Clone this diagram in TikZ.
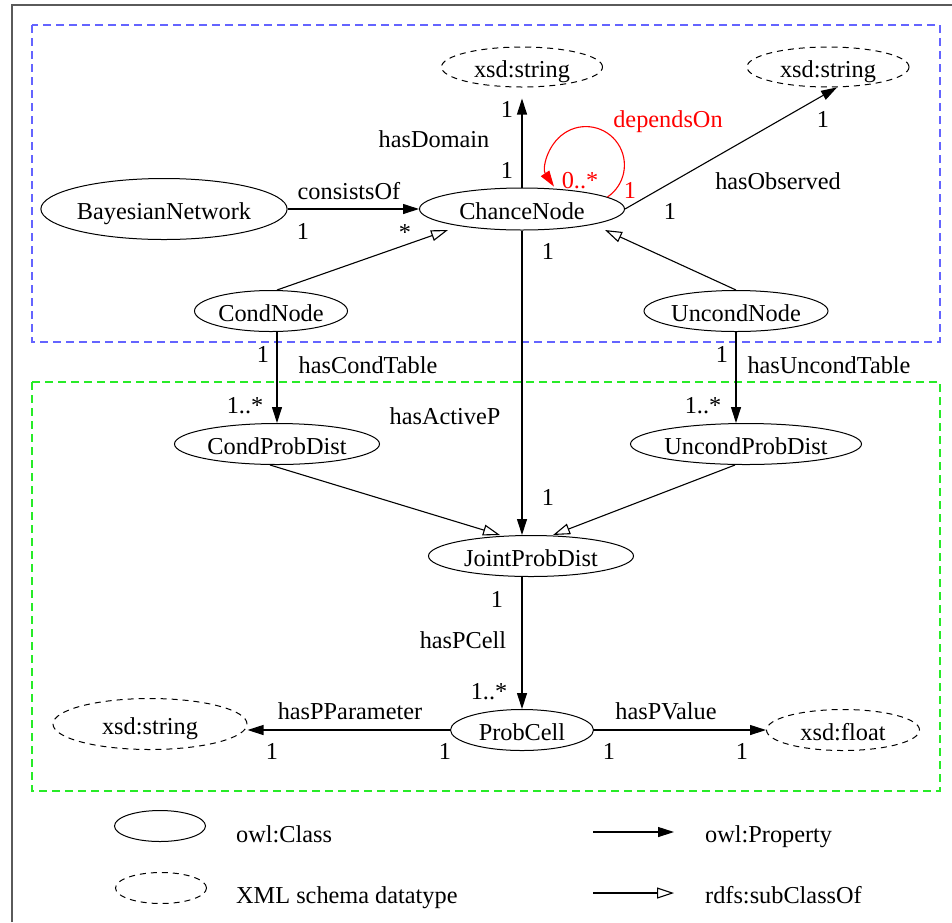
\documentclass[tikz,border=0pt]{standalone}
\usepackage{fontspec}
\setmainfont{Liberation Serif}
\usetikzlibrary{shapes.geometric,arrows.meta}
\definecolor{netblue}{RGB}{100,100,255}
\definecolor{probgreen}{RGB}{40,235,40}
\definecolor{framegray}{RGB}{90,90,90}
\begin{document}
\begin{tikzpicture}[x=1pt,y=-1pt,
  every node/.style={font=\fontsize{24.3}{29}\selectfont},
  cls/.style={ellipse,draw,line width=1pt,inner sep=0pt,text height=20pt,text depth=0pt},
  dtype/.style={cls,dash pattern=on 6pt off 5pt},
  lbl/.style={anchor=base,inner sep=0pt},
  legtext/.style={anchor=base west,inner sep=0pt},
  prop/.style={line width=1.1pt,-{Triangle[length=16pt,width=10pt]}},
  sub/.style={line width=1.1pt,-{Triangle[open,length=17pt,width=11pt]}},
  grp/.style={line width=1.2pt,dash pattern=on 8pt off 5pt},
]
\useasboundingbox (0,0) rectangle (952,922);

% outer frame and the two package groups
\draw[framegray,line width=1.5pt] (12,922) -- (12,5) -- (952,5);
\draw[grp,netblue] (32,25) rectangle (940,342);
\draw[grp,probgreen] (32,382) rectangle (940,791);

% classes and datatypes
\node[cls,minimum width=245pt,minimum height=61pt] (bn) at (164,209) {BayesianNetwork};
\node[cls,minimum width=205pt,minimum height=42pt] (cn) at (522,209) {ChanceNode};
\node[dtype,minimum width=161pt,minimum height=40pt] (xs1) at (522,67) {xsd:string};
\node[dtype,minimum width=162pt,minimum height=40pt] (xs2) at (828,67) {xsd:string};
\node[cls,minimum width=153pt,minimum height=41pt] (cond) at (271,311) {CondNode};
\node[cls,minimum width=184pt,minimum height=41pt] (uncond) at (736,311) {UncondNode};
\node[cls,minimum width=205pt,minimum height=41pt] (cpd) at (277,444) {CondProbDist};
\node[cls,minimum width=225pt,minimum height=41pt] (upd) at (746,444) {UncondProbDist};
\node[cls,minimum width=205pt,minimum height=41pt] (jpd) at (531,556) {JointProbDist};
\node[cls,minimum width=143pt,minimum height=41pt] (pc) at (522,730) {ProbCell};
\node[dtype,minimum width=194pt,minimum height=51pt] (xsb) at (150,724) {xsd:string};
\node[dtype,minimum width=153pt,minimum height=41pt] (xf) at (843,730) {xsd:float};

% properties
\draw[prop] (bn.east) -- (cn.west);
\draw[prop,shorten >=11pt] (cn.north) -- (xs1.south);
\draw[prop] (cn.east) -- (xs2.-66);
\draw[prop,red] (cn.8) arc[start angle=56,end angle=-214,radius=38.5];
\draw[prop] (cpd.north |- cond.south) -- (cpd.north);
\draw[prop] (uncond.south) -- (uncond.south |- upd.north);
\draw[prop] (cn.south) -- (cn.south |- jpd.north);
\draw[prop] (pc.north |- jpd.south) -- (pc.north);
\draw[prop] (pc.west) -- (pc.west -| xsb.east);
\draw[prop] (pc.east) -- (xf.west);

% subclass links
\draw[sub] ([xshift=6pt]cond.north) -- ([xshift=-74pt,yshift=-21pt]cn.center);
\draw[sub] (uncond.north) -- ([xshift=83pt,yshift=-21pt]cn.center);
\draw[sub] ([xshift=-7pt]cpd.south) -- ([xshift=-31pt,yshift=21pt]jpd.center);
\draw[sub] ([xshift=-11pt]upd.south) -- ([xshift=22pt,yshift=21pt]jpd.center);

% property names and cardinalities
\node[lbl] (lcons) at (349,199) {consistsOf};
\node[lbl] (lcons1) at (303,239) {1};
\node[lbl] (lcons2) at (405,240) {*};
\node[lbl] (ldom) at (434,147) {hasDomain};
\node[lbl] (ldom1) at (507,117) {1};
\node[lbl] (ldom2) at (507,178) {1};
\node[lbl,red] (ldep) at (668,127) {dependsOn};
\node[lbl,red] (ldep1) at (580,188) {0..*};
\node[lbl,red] (ldep2) at (630,198) {1};
\node[lbl] (lobs) at (778,189) {hasObserved};
\node[lbl] (lobs1) at (823,127) {1};
\node[lbl] (lobs2) at (670,219) {1};
\node[lbl] (lact1) at (548,259) {1};
\node[lbl] (lct) at (368,373) {hasCondTable};
\node[lbl] (lct1) at (263,362) {1};
\node[lbl] (lct2) at (245,413) {1..*};
\node[lbl] (lact) at (445,424) {hasActiveP};
\node[lbl] (lut) at (829,373) {hasUncondTable};
\node[lbl] (lut1) at (722,362) {1};
\node[lbl] (lut2) at (703,413) {1..*};
\node[lbl] (lact2) at (548,505) {1};
\node[lbl] (lpc1) at (497,607) {1};
\node[lbl] (lpc) at (463,648) {hasPCell};
\node[lbl] (lpc2) at (489,699) {1..*};
\node[lbl] (lpp) at (350,719) {hasPParameter};
\node[lbl] (lpp1) at (272,759) {1};
\node[lbl] (lpp2) at (445,759) {1};
\node[lbl] (lpv) at (666,719) {hasPValue};
\node[lbl] (lpv1) at (609,759) {1};
\node[lbl] (lpv2) at (742,759) {1};

% legend
\node[cls,minimum width=91pt,minimum height=31pt] (legcls) at (160,826) {};
\node[dtype,minimum width=91pt,minimum height=31pt] (legdt) at (161,888) {};
\node[legtext] (legclstext) at (236,842) {owl:Class};
\node[legtext] (legdttext) at (236,903) {XML schema datatype};
\coordinate (legpa) at (593,832);
\coordinate (legpb) at (674,832);
\coordinate (legsa) at (593,893);
\coordinate (legsb) at (674,893);
\draw[prop] (legpa) -- (legpb);
\draw[sub] (legsa) -- (legsb);
\node[legtext] (legptext) at (705,842) {owl:Property};
\node[legtext] (legstext) at (705,903) {rdfs:subClassOf};
\end{tikzpicture}
\end{document}
